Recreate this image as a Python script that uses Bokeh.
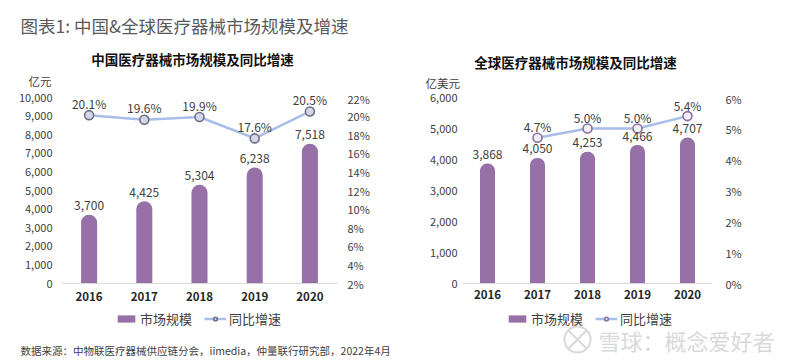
from bokeh.plotting import figure
from bokeh.models import (Range1d, LinearAxis, FixedTicker, NumeralTickFormatter,
                          PrintfTickFormatter, ColumnDataSource, LabelSet,
                          Legend, LegendItem, FactorRange)
from bokeh.layouts import row, column
from bokeh.embed import file_html
from bokeh.resources import INLINE
from bokeh.core.properties import value

# ---------------- data ----------------
years = ["2016", "2017", "2018", "2019", "2020"]

cn_size = [3700, 4425, 5304, 6238, 7518]          # 亿元
cn_growth_years = ["2016", "2017", "2018", "2019", "2020"]
cn_growth = [20.1, 19.6, 19.9, 17.6, 20.5]        # %

gl_size = [3868, 4050, 4253, 4466, 4707]          # 亿美元
gl_growth_years = ["2017", "2018", "2019", "2020"]
gl_growth = [4.7, 5.0, 5.0, 5.4]                  # %

cn_size_ticks = [0, 1000, 2000, 3000, 4000, 5000, 6000, 7000, 8000, 9000, 10000]
cn_pct_ticks = [2, 4, 6, 8, 10, 12, 14, 16, 18, 20, 22]
gl_size_ticks = [0, 1000, 2000, 3000, 4000, 5000, 6000]
gl_pct_ticks = [0, 1, 2, 3, 4, 5, 6]

main_title = "图表1: 中国&全球医疗器械市场规模及增速"
cn_title = "中国医疗器械市场规模及同比增速"
gl_title = "全球医疗器械市场规模及同比增速"
cn_unit = "亿元"
gl_unit = "亿美元"
legend_bar = "市场规模"
legend_line = "同比增速"
source_note = "数据来源：中物联医疗器械供应链分会，iimedia，仲量联行研究部，2022年4月"
watermark = "雪球：概念爱好者"

# ---------------- style ----------------
FONT = "Noto Sans CJK SC"
BAR = "#9670a6"
LINE = "#a9bde9"
TXT = "#404040"
W, H = 800, 364
HEAD_H = 90          # header strip height
AXIS_PAD = 7         # px of frame above the top tick
X_AXIS_H = 27        # space for the year labels
FOOT_H = H - HEAD_H - (186 + AXIS_PAD) - X_AXIS_H

CN_MARK = ("#d3d6e6", "#6f6f86")
GL_MARK = ("#f2eff6", "#8b6f9f")


def blank(width, height):
    p = figure(width=width, height=height, x_range=Range1d(0, width),
               y_range=Range1d(0, height), min_border=0, x_axis_type=None,
               y_axis_type=None, output_backend="svg", toolbar_location=None, tools="")
    p.outline_line_color = None
    return p


def make_chart(size, growth_years, growth, size_top, pct_min, pct_top,
               size_ticks, pct_ticks, frame_w, border_l, border_r, bar_w, radius,
               mark, line_off, left_standoff, right_standoff, x_standoff):
    frame_h = 186 + AXIS_PAD
    ext = frame_h / 186.0
    p = figure(x_range=FactorRange(factors=years),
               y_range=Range1d(0, size_top * ext),
               frame_width=frame_w, frame_height=frame_h,
               min_border_left=border_l, min_border_right=border_r,
               min_border_top=0, min_border_bottom=X_AXIS_H,
               output_backend="svg", toolbar_location=None, tools="")
    p.outline_line_color = None
    p.xgrid.visible = False
    p.ygrid.visible = False
    p.extra_y_ranges = {"pct": Range1d(pct_min, pct_min + (pct_top - pct_min) * ext)}

    bsrc = ColumnDataSource(dict(x=years, top=size, lbl=[f"{v:,}" for v in size]))
    p.vbar(x="x", top="top", width=bar_w, source=bsrc, fill_color=BAR,
           line_color=None, border_radius=(radius, radius, 0, 0))

    gsrc = ColumnDataSource(dict(x=growth_years, y=growth,
                                 lbl=[f"{v:.1f}%" for v in growth]))
    p.line(x="x", y="y", source=gsrc, y_range_name="pct",
           line_color=LINE, line_width=2.5)
    p.scatter(x="x", y="y", source=gsrc, y_range_name="pct", size=9,
              fill_color=mark[0], line_color=mark[1], line_width=1.6)

    p.add_layout(LabelSet(x="x", y="top", text="lbl", source=bsrc, y_offset=9,
                          text_align="center", text_baseline="middle",
                          text_font=value(FONT), text_font_size="12px", text_color=TXT))
    p.add_layout(LabelSet(x="x", y="y", text="lbl", source=gsrc, y_range_name="pct",
                          y_offset=line_off, text_align="center", text_baseline="middle",
                          text_font=value(FONT), text_font_size="12px", text_color=TXT))

    p.yaxis.ticker = FixedTicker(ticks=size_ticks)
    p.yaxis.formatter = NumeralTickFormatter(format="0,0")
    p.yaxis.major_label_standoff = left_standoff
    rax = LinearAxis(y_range_name="pct", ticker=FixedTicker(ticks=pct_ticks),
                     formatter=PrintfTickFormatter(format="%d%%"))
    rax.major_label_standoff = right_standoff
    p.add_layout(rax, "right")
    for ax in [p.yaxis[0], rax, p.xaxis[0]]:
        ax.major_tick_line_color = None
        ax.minor_tick_line_color = None
        ax.major_tick_out = 0
        ax.major_tick_in = 0
        ax.minor_tick_out = 0
        ax.major_label_text_font = FONT
        ax.major_label_text_font_size = "11px"
        ax.major_label_text_color = TXT
    p.yaxis[0].axis_line_color = None
    rax.axis_line_color = None
    xa = p.xaxis[0]
    xa.axis_line_color = "#d9d9d9"
    xa.major_label_text_font_size = "11.5px"
    xa.major_label_text_font_style = "bold"
    xa.major_label_text_color = "#262626"
    xa.major_label_standoff = x_standoff
    return p


def footer_legend(p, x_left, y_bottom, mark):
    # proxy renderers placed outside the visible range; they only supply swatches
    off = -1000
    bar_proxy = p.vbar(x=[off], top=[off + 1], bottom=[off], width=1,
                       fill_color=BAR, line_color=None)
    line_proxy = p.line(x=[off, off + 1], y=[off, off], line_color=LINE, line_width=2.5)
    pt_proxy = p.scatter(x=[off], y=[off], size=7, fill_color=mark[0],
                         line_color=mark[1], line_width=1.6)
    lg = Legend(items=[LegendItem(label=legend_bar, renderers=[bar_proxy]),
                       LegendItem(label=legend_line, renderers=[line_proxy, pt_proxy])],
                location=(x_left, y_bottom), orientation="horizontal",
                border_line_color=None, background_fill_alpha=0,
                label_text_font=FONT, label_text_font_size="13px",
                label_text_color=TXT, glyph_width=22, glyph_height=9,
                label_height=16, label_standoff=3, spacing=12, padding=0, margin=0)
    p.add_layout(lg, "center")


# ---------------- header ----------------
head = blank(W, HEAD_H)
head.text(x=[20], y=[HEAD_H - 25], text=[main_title], text_font=value(FONT),
          text_font_size="17.5px", text_color="#595959", text_baseline="middle")
head.text(x=[192, 575], y=[HEAD_H - 58, HEAD_H - 61], text=[cn_title, gl_title],
          text_font=value(FONT), text_font_size="13.5px", text_font_style="bold",
          text_color="#111111", text_align="center", text_baseline="middle")
head.text(x=[28, 425], y=[HEAD_H - 80, HEAD_H - 82], text=[cn_unit, gl_unit],
          text_font=value(FONT), text_font_size="11.5px", text_color=TXT,
          text_baseline="middle")

# ---------------- charts ----------------
p1 = make_chart(cn_size, cn_growth_years, cn_growth, 10000, 2, 22,
                cn_size_ticks, cn_pct_ticks, 276, 61, 63, 0.29, 8,
                CN_MARK, 12, 9, 10, 8)
p2 = make_chart(gl_size, gl_growth_years, gl_growth, 6000, 0, 6,
                gl_size_ticks, gl_pct_ticks, 250, 62, 88, 0.3, 7,
                GL_MARK, 11, 5, 13, 6)

# ---------------- footer ----------------
foot = blank(W, FOOT_H)
footer_legend(foot, 115, H - 320 - 8, CN_MARK)
footer_legend(foot, 506, H - 320 - 8, GL_MARK)
foot.text(x=[20], y=[H - 350], text=[source_note],
          text_font=value(FONT), text_font_size="10.5px", text_color=TXT,
          text_baseline="middle")
foot.scatter(x=[577], y=[H - 339], marker="circle_x", size=26, fill_color=None,
             line_color="#d9d9d9", line_width=2)
foot.text(x=[598], y=[H - 339], text=[watermark], text_font=value(FONT),
          text_font_size="22px", text_color="#d9d9d9", text_baseline="middle")

layout = column(head, row(p1, p2), foot)
open("out.html", "w").write(file_html(layout, INLINE))
